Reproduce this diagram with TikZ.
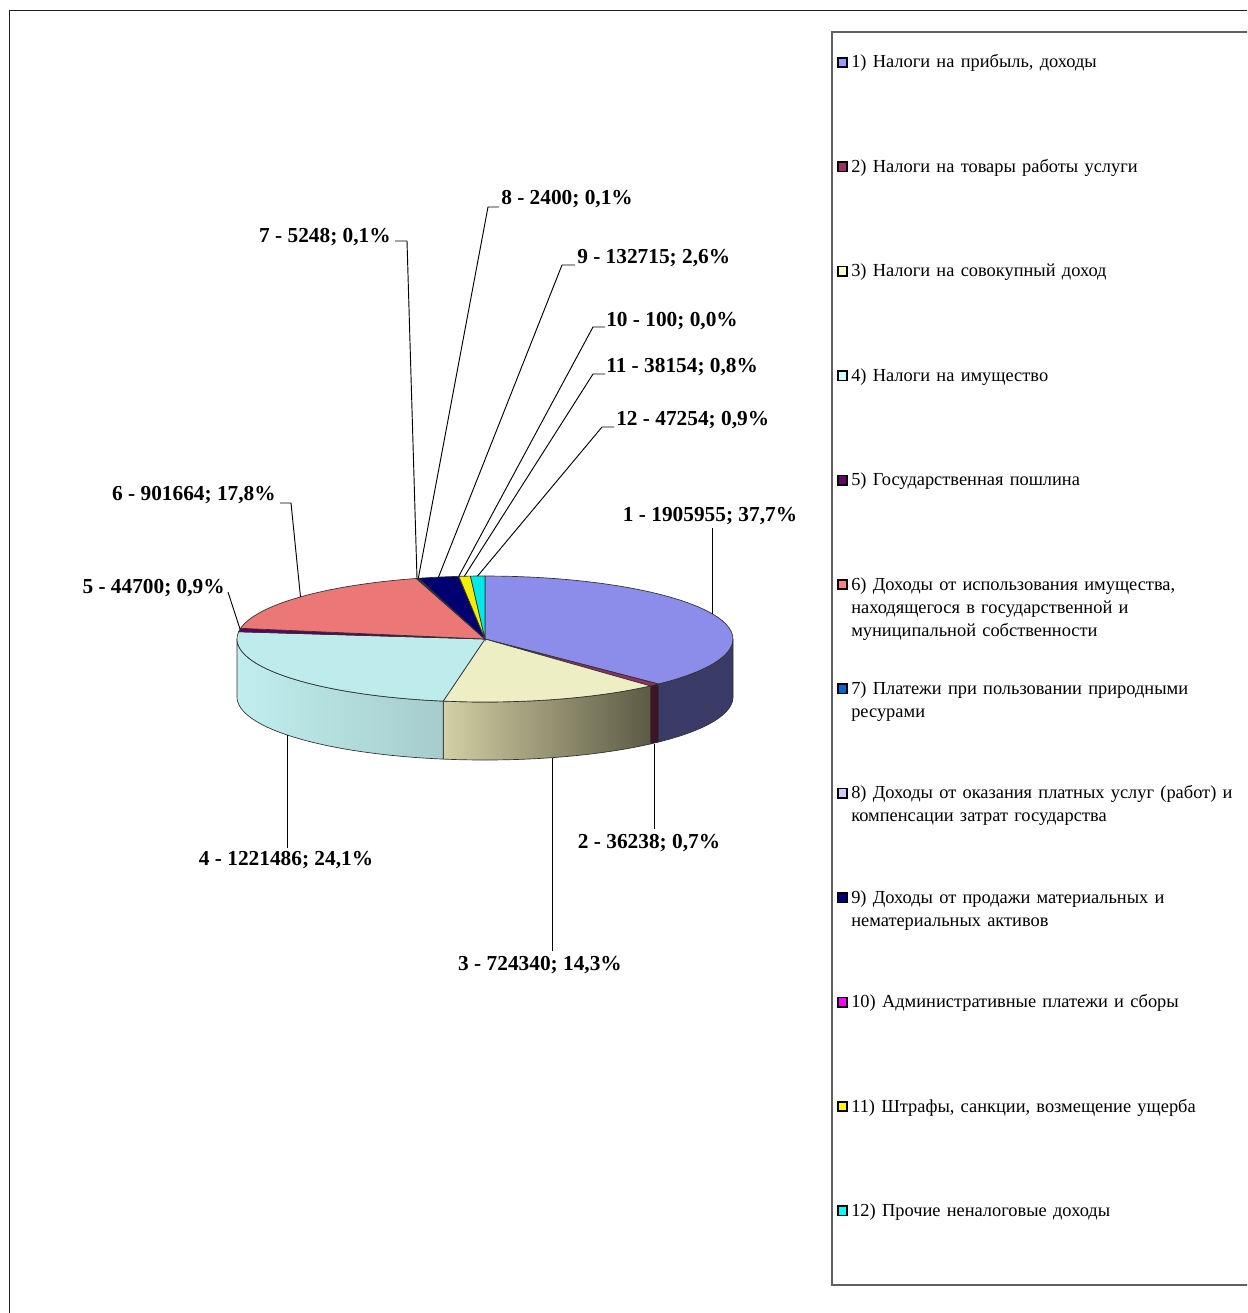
\documentclass[tikz,border=0pt]{standalone}
\usepackage{fontspec}
\setmainfont{Liberation Serif}
\definecolor{edgecol}{HTML}{303030}
\definecolor{frm}{HTML}{202020}
\definecolor{legfrm}{HTML}{606060}
% legend colours
\definecolor{c1}{HTML}{9999FF}
\definecolor{c2}{HTML}{993366}
\definecolor{c3}{HTML}{FFFFCC}
\definecolor{c4}{HTML}{CCFFFF}
\definecolor{c5}{HTML}{660066}
\definecolor{c6}{HTML}{FF8080}
\definecolor{c7}{HTML}{0066CC}
\definecolor{c8}{HTML}{CCCCFF}
\definecolor{c9}{HTML}{000080}
\definecolor{c10}{HTML}{FF00FF}
\definecolor{c11}{HTML}{FFFF00}
\definecolor{c12}{HTML}{00FFFF}
% pie top colours
\definecolor{t1}{HTML}{8C8CEB}
\definecolor{t2}{HTML}{8F3060}
\definecolor{t3}{HTML}{EEEEC5}
\definecolor{t4}{HTML}{BEECEC}
\definecolor{t5}{HTML}{600060}
\definecolor{t6}{HTML}{EC7777}
\definecolor{t7}{HTML}{0060C0}
\definecolor{t8}{HTML}{C0C0F0}
\definecolor{t9}{HTML}{000070}
\definecolor{t10}{HTML}{F000F0}
\definecolor{t11}{HTML}{F0F000}
\definecolor{t12}{HTML}{00E8E8}
% pie side colours
\definecolor{s1}{HTML}{3B3B68}
\definecolor{s2}{HTML}{3E1428}
\definecolor{s3a}{HTML}{D2D0A4}
\definecolor{s3b}{HTML}{5C5A44}
\definecolor{s4a}{HTML}{C0EEEE}
\definecolor{s4b}{HTML}{A6CCCC}
\newcommand\pietop[4][40]{\filldraw[fill=#4,draw=edgecol,line width=0.5pt] (485,639) -- plot[domain=#2:#3,samples=#1,variable=\t] ({485+248*sin(\t)},{639-63*cos(\t)}) -- cycle;}
\newcommand\pieside[3]{\path[#3,draw=edgecol,line width=0.5pt] plot[domain=#1:#2,samples=40,variable=\t] ({485+248*sin(\t)},{639-63*cos(\t)}) -- plot[domain=#2:#1,samples=40,variable=\t] ({485+248*sin(\t)},{697-63*cos(\t)}) -- cycle;}
\newcommand\legfont{\fontsize{13.8}{17.25}\selectfont\spaceskip=0.34em plus 0.1em\relax}
\begin{document}
\begin{tikzpicture}[x=0.75pt,y=-0.75pt,
  lbl/.style={font=\fontsize{16}{19}\selectfont\bfseries, inner sep=0pt},
  leg/.style={font=\legfont, anchor=base west, inner sep=0pt},
  legsq/.style={draw=black, line width=1.2pt, minimum size=7pt, inner sep=0pt},
  leader/.style={draw=black, line width=0.7pt}]
\useasboundingbox (0,0) rectangle (1247,1313);
\clip (0,0) rectangle (1247,1313);
% frames
\draw[frm, line width=1.1pt] (9.5,1330) -- (9.5,10.5) -- (1260,10.5);
\draw[legfrm, line width=1.1pt] (1260,32) -- (832,32) -- (832,1285) -- (1260,1285);
% pie sides
\pieside{90}{135.595}{fill=s1}
\pieside{135.595}{138.173}{fill=s2}
\pieside{138.173}{189.704}{left color=s3a, right color=s3b}
\pieside{189.704}{270}{left color=s4a, right color=s4b}
% pie tops
\pietop{0}{135.595}{t1}
\pietop[4]{135.595}{138.173}{t2}
\pietop{138.173}{189.704}{t3}
\pietop{189.704}{276.604}{t4}
\pietop[4]{276.604}{279.784}{t5}
\pietop{279.784}{343.931}{t6}
\pietop[3]{343.931}{344.304}{t7}
\pietop[3]{344.304}{344.475}{t8}
\pietop[8]{344.475}{353.917}{t9}
\pietop[3]{353.917}{353.924}{t10}
\pietop[4]{353.924}{356.638}{t11}
\pietop[4]{356.638}{360}{t12}
% anchor points on the pie
\coordinate (p1) at (712,613.5);
\coordinate (p2) at (654,744);
\coordinate (p3) at (552,758);
\coordinate (p4) at (287,735);
\coordinate (p5) at (240,629);
\coordinate (p6) at (300.5,597);
\coordinate (p7) at (417,578.4);
\coordinate (p8) at (418.3,578.3);
\coordinate (p9) at (438.5,577.1);
\coordinate (p10) at (458.7,576.4);
\coordinate (p11) at (464.4,576.2);
\coordinate (p12) at (477.6,576);
% labels
\node[lbl] (l1) at (710,516) {1 - 1905955; 37,7\%};
\node[lbl] (l2) at (649,843) {2 - 36238; 0,7\%};
\node[lbl] (l3) at (540,965) {3 - 724340; 14,3\%};
\node[lbl] (l4) at (286,860) {4 - 1221486; 24,1\%};
\node[lbl,anchor=east] (l5) at (225,588) {5 - 44700; 0,9\%};
\node[lbl,anchor=east] (l6) at (276,495) {6 - 901664; 17,8\%};
\node[lbl,anchor=east] (l7) at (391,237) {7 - 5248; 0,1\%};
\node[lbl,anchor=west] (l8) at (501,199) {8 - 2400; 0,1\%};
\node[lbl,anchor=west] (l9) at (577,258) {9 - 132715; 2,6\%};
\node[lbl,anchor=west] (l10) at (606,321) {10 - 100; 0,0\%};
\node[lbl,anchor=west] (l11) at (606,367) {11 - 38154; 0,8\%};
\node[lbl,anchor=west] (l12) at (616,420) {12 - 47254; 0,9\%};
% leader end points near labels
\coordinate (e1) at (712,528);
\coordinate (e2) at (654,829);
\coordinate (e3) at (552,951);
\coordinate (e4) at (287,848);
\coordinate (e5) at (228,592);
\coordinate (a6) at (280,503); \coordinate (b6) at (291,503);
\coordinate (a7) at (395,241); \coordinate (b7) at (407,241);
\coordinate (a8) at (499,207); \coordinate (b8) at (488,207);
\coordinate (a9) at (575,265); \coordinate (b9) at (562,265);
\coordinate (a10) at (605,327); \coordinate (b10) at (593,327);
\coordinate (a11) at (605,374); \coordinate (b11) at (593,374);
\coordinate (a12) at (614,427); \coordinate (b12) at (602,427);
\draw[leader] (e1) -- (p1);
\draw[leader] (e2) -- (p2);
\draw[leader] (e3) -- (p3);
\draw[leader] (e4) -- (p4);
\draw[leader] (e5) -- (p5);
\draw[leader] (a6) -- (b6) -- (p6);
\draw[leader] (a7) -- (b7) -- (p7);
\draw[leader] (a8) -- (b8) -- (p8);
\draw[leader] (a9) -- (b9) -- (p9);
\draw[leader] (a10) -- (b10) -- (p10);
\draw[leader] (a11) -- (b11) -- (p11);
\draw[leader] (a12) -- (b12) -- (p12);
% legend
\node[legsq,fill=c1] (m1) at (842.5,62.5) {};
\node[leg] (g1) at (851,68) {1) Налоги на прибыль, доходы};
\node[legsq,fill=c2] (m2) at (842.5,166.9) {};
\node[leg] (g2) at (851,172.4) {2) Налоги на товары работы услуги};
\node[legsq,fill=c3] (m3) at (842.5,271.3) {};
\node[leg] (g3) at (851,276.8) {3) Налоги на совокупный доход};
\node[legsq,fill=c4] (m4) at (842.5,375.7) {};
\node[leg] (g4) at (851,381.2) {4) Налоги на имущество};
\node[legsq,fill=c5] (m5) at (842.5,480.1) {};
\node[leg] (g5) at (851,485.6) {5) Государственная пошлина};
\node[legsq,fill=c6] (m6) at (842.5,584.5) {};
\node[leg] (g6) at (851,590) {\begin{tabular}[t]{@{}l@{}}6) Доходы от использования имущества,\\находящегося в государственной и\\муниципальной собственности\end{tabular}};
\node[legsq,fill=c7] (m7) at (842.5,688.9) {};
\node[leg] (g7) at (851,694.4) {\begin{tabular}[t]{@{}l@{}}7) Платежи при пользовании природными\\ресурами\end{tabular}};
\node[legsq,fill=c8] (m8) at (842.5,793.3) {};
\node[leg] (g8) at (851,798.8) {\begin{tabular}[t]{@{}l@{}}8) Доходы от оказания платных услуг (работ) и\\компенсации затрат государства\end{tabular}};
\node[legsq,fill=c9] (m9) at (842.5,897.7) {};
\node[leg] (g9) at (851,903.2) {\begin{tabular}[t]{@{}l@{}}9) Доходы от продажи материальных и\\нематериальных активов\end{tabular}};
\node[legsq,fill=c10] (m10) at (842.5,1002.1) {};
\node[leg] (g10) at (851,1007.6) {10) Административные платежи и сборы};
\node[legsq,fill=c11] (m11) at (842.5,1106.5) {};
\node[leg] (g11) at (851,1112) {11) Штрафы, санкции, возмещение ущерба};
\node[legsq,fill=c12] (m12) at (842.5,1210.9) {};
\node[leg] (g12) at (851,1216.4) {12) Прочие неналоговые доходы};
\end{tikzpicture}
\end{document}
